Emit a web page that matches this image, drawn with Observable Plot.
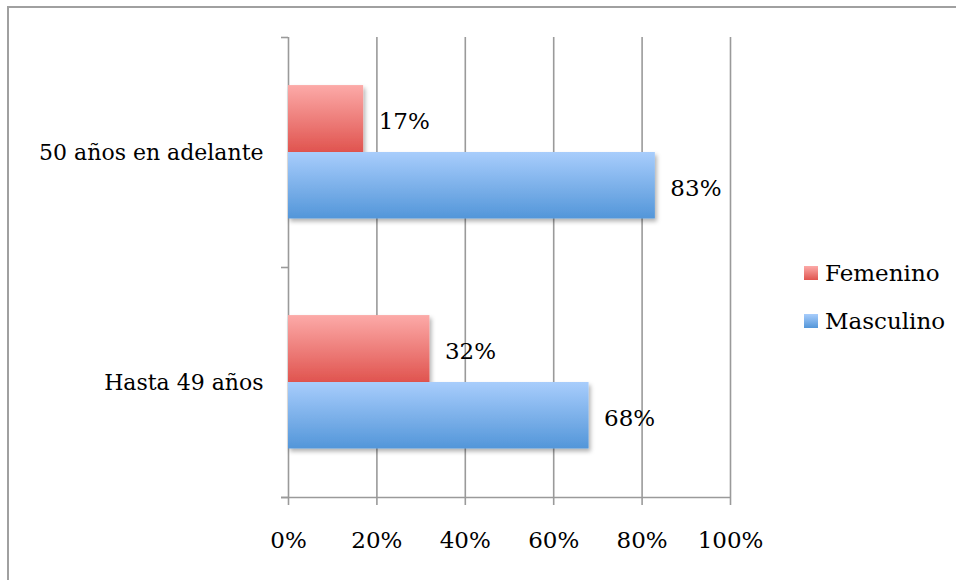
<!DOCTYPE html>
<html>
<head>
<meta charset="utf-8">
<script src="https://cdn.jsdelivr.net/npm/d3@7"></script>
<script src="https://cdn.jsdelivr.net/npm/@observablehq/plot@0.6"></script>
<style>
  html, body { margin: 0; padding: 0; background: #fff; }
  #wrap { position: relative; width: 956px; height: 580px; overflow: hidden; font-family: "DejaVu Serif", serif; }
  #frame { position: absolute; left: 7px; top: 6px; width: 1000px; height: 1000px; border: 2px solid #a0a0a0; box-sizing: border-box; }
  #legend { position: absolute; left: 804px; top: 256px; font-size: 23px; color: #000; }
  .li { display: flex; align-items: center; height: 34px; margin-bottom: 14px; }
  .sw { width: 14px; height: 14px; margin-right: 7px; }
</style>
</head>
<body>
<div id="wrap"><div id="frame"></div><div id="chart"></div><div id="legend"></div></div>
<script>
const categories = ["50 años en adelante", "Hasta 49 años"];
const series = ["Femenino", "Masculino"];
const femenino = [17, 32];
const masculino = [83, 68];
const xTicks = [0, 20, 40, 60, 80, 100];

const gradients = {
  Femenino: ["#fcaaa8", "#e0544f"],
  Masculino: ["#a8cdfc", "#5396d9"]
};

// bar offsets within each category band (band = 1 unit)
const barTop = 0.209, barMid = 0.5, barBot = 0.789;

const data = [];
categories.forEach((c, i) => {
  data.push({cat: c, i, s: "Femenino", v: femenino[i], y1: i + barTop, y2: i + barMid});
  data.push({cat: c, i, s: "Masculino", v: masculino[i], y1: i + barMid, y2: i + barBot});
});

const FS = 23;
const grid = "#9a9a9a";
const chart = Plot.plot({
  width: 956,
  height: 580,
  marginLeft: 288,
  marginRight: 226,
  marginTop: 37,
  marginBottom: 83,
  style: {fontFamily: "'DejaVu Serif', serif", fontSize: FS + "px", background: "transparent", color: "#000", overflow: "visible"},
  x: {domain: [0, 100], label: null},
  y: {domain: [0, categories.length], reverse: true, label: null},
  marks: [
    Plot.ruleX(xTicks.slice(1), {stroke: grid, strokeWidth: 1.6}),
    Plot.ruleX([0], {stroke: grid, strokeWidth: 1.6}),
    Plot.ruleY([categories.length], {stroke: grid, strokeWidth: 1.6, insetLeft: -7}),
    Plot.axisY(d3.range(categories.length + 1), {tickSize: 7, tickFormat: () => "", stroke: grid, strokeWidth: 1.6, label: null}),
    Plot.axisY(categories.map((c, i) => i + 0.5), {tickSize: 0, tickPadding: 25, tickFormat: v => categories[Math.floor(v)], fill: "#000", fontSize: 22, label: null}),
    Plot.axisX(xTicks, {tickSize: 8, tickPadding: 26, tickFormat: d => d + "%", stroke: grid, strokeWidth: 1.6, fill: "#000", fontSize: FS, label: null}),
    Plot.rectX(data.filter(d => d.s === "Femenino"), {x1: 0, x2: "v", y1: "y1", y2: "y2", fill: "url(#gFemenino)"}),
    Plot.rectX(data.filter(d => d.s === "Masculino"), {x1: 0, x2: "v", y1: "y1", y2: "y2", fill: "url(#gMasculino)"}),
    Plot.text(data, {x: "v", y: d => (d.y1 + d.y2) / 2, text: d => d.v + "%", dx: 15, dy: 3, textAnchor: "start", fill: "#000", fontSize: FS})
  ]
});

const svg = d3.select(chart);
const defs = svg.insert("defs", ":first-child");
for (const s of series) {
  const g = defs.append("linearGradient").attr("id", "g" + s).attr("x1", 0).attr("y1", 0).attr("x2", 0).attr("y2", 1);
  g.append("stop").attr("offset", "0%").attr("stop-color", gradients[s][0]);
  g.append("stop").attr("offset", "100%").attr("stop-color", gradients[s][1]);
}
const f = defs.append("filter").attr("id", "shadow").attr("x", "-10%").attr("y", "-10%").attr("width", "130%").attr("height", "140%");
f.append("feDropShadow").attr("dx", 2).attr("dy", 3).attr("stdDeviation", 2).attr("flood-color", "#000").attr("flood-opacity", 0.3);
svg.selectAll("g[aria-label=rect] rect").attr("filter", "url(#shadow)");

document.getElementById("chart").appendChild(chart);

const legend = d3.select("#legend");
for (const s of series) {
  const it = legend.append("div").attr("class", "li");
  it.append("div").attr("class", "sw").style("background", `linear-gradient(${gradients[s][0]}, ${gradients[s][1]})`);
  it.append("span").text(s);
}
</script>
</body>
</html>
